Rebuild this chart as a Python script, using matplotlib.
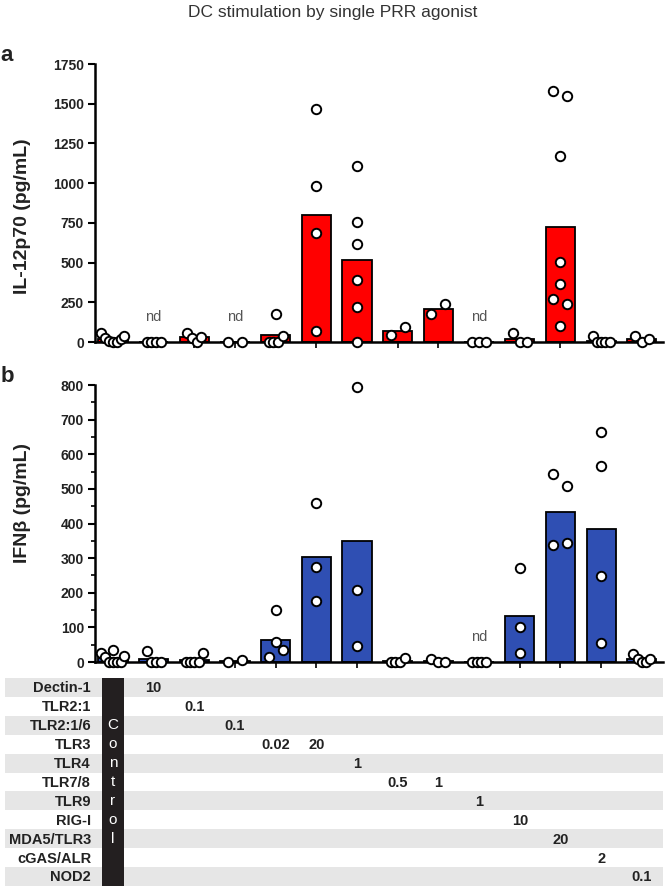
import matplotlib
matplotlib.use("Agg")
import matplotlib.pyplot as plt
import matplotlib.font_manager as fm
import numpy as np

# ---- data ----
il12 = [
    [55, 25, 5, 0, 0, 20, 35],
    [0, 0, 0, 0],
    [59, 25, 0, 31],
    [0, 0],
    [174, 0, 0, 0, 36],
    [1464, 983, 687, 69],
    [1107, 756, 615, 393, 220, 0],
    [42, 94],
    [178, 241],
    [0, 0, 0],
    [55, 0, 0],
    [1581, 1548, 1170, 504, 363, 269, 237, 101],
    [38, 0, 0, 0, 0],
    [38, 0, 17],
]
il12_nd = [1, 3, 9]

ifnb = [
    [26, 14, 0, 0, 0, 0, 36, 18],
    [33, 0, 0, 0],
    [0, 0, 0, 0, 27],
    [0, 7],
    [14, 58, 34, 151],
    [459, 274, 175],
    [795, 209, 45],
    [0, 0, 0, 12],
    [10, 0, 0],
    [0, 0, 0, 0],
    [271, 100, 26],
    [542, 509, 339, 344],
    [665, 565, 247, 55],
    [22, 10, 0, 0, 8],
]
ifnb_nd = [9]

agonists = ['Dectin-1', 'TLR2:1', 'TLR2:1/6', 'TLR3', 'TLR4', 'TLR7/8', 'TLR9',
            'RIG-I', 'MDA5/TLR3', 'cGAS/ALR', 'NOD2']
dose_row = [0, 1, 2, 3, 3, 4, 5, 5, 6, 7, 8, 9, 10]
dose_text = ['10', '0.1', '0.1', '0.02', '20', '1', '0.5', '1', '1', '10', '20', '2', '0.1']

# ---- fonts ----
names = {f.name for f in fm.fontManager.ttflist}
narrow = 'Liberation Sans Narrow' if 'Liberation Sans Narrow' in names else 'Liberation Sans'
plt.rcParams['font.family'] = ['Liberation Sans', 'DejaVu Sans']

W, H = 666, 888
fig = plt.figure(figsize=(W / 100, H / 100), dpi=100)

n = len(il12)
xpos = np.arange(n)
xlim = (-0.44, 13.52)
ax_l, ax_r = 95, 663
px_per_x = (ax_r - ax_l) / (xlim[1] - xlim[0])
dot_d = 9.5  # px


def scatter_offsets(vals, px_per_y):
    # group points of similar height and spread them side by side (prism style)
    vals = np.asarray(vals, float)
    ypx = vals * px_per_y
    order = np.argsort(ypx, kind='stable')
    offs = np.zeros(len(vals))
    clusters = []
    for i in order:
        if clusters and ypx[i] - ypx[clusters[-1][0]] <= 1.3 * dot_d:
            clusters[-1].append(i)
        else:
            clusters.append([i])
    for c in clusters:
        k = len(c)
        if k == 1:
            continue
        c = sorted(c)
        half = 7 if k <= 4 else 7 + 1.5 * (k - 4)
        for j, o in zip(c, np.linspace(-half, half, k)):
            offs[j] = o / px_per_x
    return offs


def panel(rect, data, nd, ylim, yticks, color, ylabel, label_y, letter, minor=None):
    ax = fig.add_axes(rect)
    px_per_y = rect[3] * H / (ylim[1] - ylim[0])
    means = [np.mean(v) for v in data]
    ax.bar(xpos, means, width=0.72, color=color, edgecolor='black', linewidth=1.3, zorder=2)
    for i, v in enumerate(data):
        offs = scatter_offsets(v, px_per_y)
        ax.scatter(i + offs, v, s=46, facecolor='white', edgecolor='black',
                   linewidth=1.4, zorder=3, clip_on=False)
    for i in nd:
        ax.text(i, 0.09, 'nd', transform=ax.get_xaxis_transform(), ha='center', va='center',
                fontsize=10.5, color='#555555', family=narrow)
    ax.set_xlim(xlim)
    ax.set_ylim(ylim)
    ax.set_yticks(yticks)
    if minor is not None:
        ax.set_yticks(minor, minor=True)
    ax.set_xticks(xpos)
    ax.set_xticklabels([])
    for s in ['top', 'right']:
        ax.spines[s].set_visible(False)
    for s in ['left', 'bottom']:
        ax.spines[s].set_linewidth(1.8)
    ax.tick_params(axis='y', width=1.5, length=5, labelsize=10, pad=3)
    ax.tick_params(axis='y', which='minor', width=1.2, length=3)
    ax.tick_params(axis='x', width=1.2, length=4)
    for t in ax.get_yticklabels():
        t.set_family(narrow)
        t.set_fontweight('bold')
        t.set_color('#222222')
    ax.set_ylabel(ylabel, fontsize=14, fontweight='bold', color='#222222')
    ax.yaxis.set_label_coords(-0.112, label_y)
    ax.text(-0.155, 1.03, letter, transform=ax.transAxes, fontsize=16, fontweight='bold',
            ha='center', va='center', color='#222222')
    return ax


panel([ax_l / W, 1 - 342 / H, (ax_r - ax_l) / W, 278 / H], il12, il12_nd, (0, 1750),
      np.arange(0, 1751, 250), '#ff0000', 'IL-12p70 (pg/mL)', 0.453, 'a')
panel([ax_l / W, 1 - 662 / H, (ax_r - ax_l) / W, 277 / H], ifnb, ifnb_nd, (0, 800),
      np.arange(0, 801, 100), '#2f4fb3', 'IFNβ (pg/mL)', 0.574, 'b',
      minor=np.arange(50, 800, 100))

# ---- agonist table ----
t_l, t_top, t_bot = 5, 678, 886
tax = fig.add_axes([t_l / W, 1 - t_bot / H, (ax_r - t_l) / W, (t_bot - t_top) / H])
tax.set_xlim(xlim[0] - (ax_l - t_l) / px_per_x, xlim[1])
nrow = len(agonists)
tax.set_ylim(nrow, 0)
tax.axis('off')
for r in range(0, nrow, 2):
    tax.axhspan(r, r + 1, color='#e6e6e6', lw=0, zorder=0)
tax.bar(0, nrow, bottom=0, width=0.56, color='#231f20', zorder=2)
for k, ch in enumerate('Control'):
    tax.text(0, 2.5 + k, ch, ha='center', va='center', color='white', fontsize=11, zorder=3)
lab_x = xlim[0] - (ax_l - 91) / px_per_x
for r, name in enumerate(agonists):
    tax.text(lab_x, r + 0.55, name, ha='right', va='center', fontsize=10.5,
             fontweight='bold', color='#222222')
for g, (r, txt) in enumerate(zip(dose_row, dose_text)):
    tax.text(g + 1, r + 0.55, txt, ha='center', va='center', fontsize=10.5,
             fontweight='bold', family=narrow, color='#222222')

fig.text(333 / W, 1 - 12 / H, 'DC stimulation by single PRR agonist', ha='center', va='center',
         fontsize=12.5, color='#333333')

fig.savefig('out.png', dpi=100)
